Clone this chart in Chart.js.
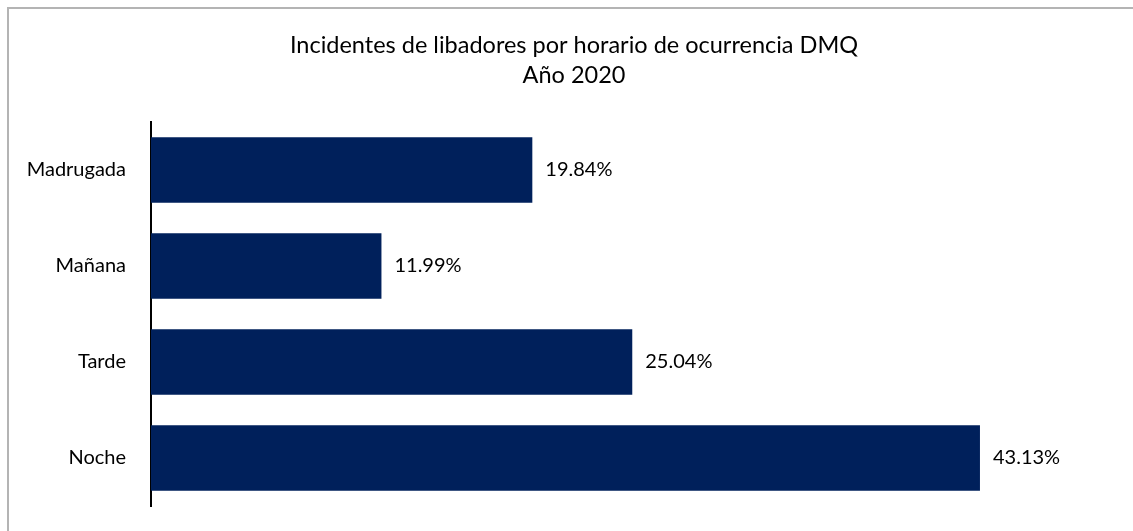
<!DOCTYPE html>
<html>
<head>
<meta charset="utf-8">
<script src="https://cdn.jsdelivr.net/npm/chart.js@4/dist/chart.umd.min.js"></script>
<style>
  html, body { margin: 0; padding: 0; background: #fff; overflow: hidden; }
  #frame {
    position: absolute; left: 7px; top: 7px;
    width: 1124px; height: 522px;
    border-top: 2px solid #b4b4b4;
    border-left: 2px solid #b4b4b4;
  }
  #frame canvas { display: block; }
</style>
</head>
<body>
<div id="frame"><canvas id="libadores" width="1124" height="522"></canvas></div>
<script>
const categories = ['Madrugada', 'Mañana', 'Tarde', 'Noche'];
const percentages = [19.84, 11.99, 25.04, 43.13];
const titleLines = ['Incidentes de libadores por horario de ocurrencia DMQ', 'Año 2020'];

const fontFamily = 'Lato, "Open Sans", sans-serif';

// percent text to the right of each bar
const valueLabels = {
  id: 'valueLabels',
  afterDatasetsDraw(chart) {
    const ctx = chart.ctx;
    const meta = chart.getDatasetMeta(0);
    ctx.save();
    ctx.font = '20px ' + fontFamily;
    ctx.fillStyle = '#000';
    ctx.textBaseline = 'middle';
    ctx.textAlign = 'left';
    meta.data.forEach((bar, i) => {
      ctx.fillText(percentages[i].toFixed(2) + '%', bar.x + 13, bar.y);
    });
    ctx.restore();
  }
};

// title centred on the whole picture, not on the chart box
const centredTitle = {
  id: 'centredTitle',
  afterDraw(chart) {
    const ctx = chart.ctx;
    ctx.save();
    ctx.font = '23.5px ' + fontFamily;
    ctx.fillStyle = '#000';
    ctx.textAlign = 'center';
    ctx.textBaseline = 'middle';
    titleLines.forEach((line, i) => {
      ctx.fillText(line, chart.width / 2 + 3, 36 + i * 30);
    });
    ctx.restore();
  }
};

new Chart(document.getElementById('libadores'), {
  type: 'bar',
  data: {
    labels: categories,
    datasets: [{
      data: percentages,
      backgroundColor: '#00205b',
      categoryPercentage: 1,
      barPercentage: 0.68
    }]
  },
  options: {
    indexAxis: 'y',
    responsive: false,
    animation: false,
    devicePixelRatio: 1,
    layout: { padding: { left: 0, right: 21, top: 113, bottom: 25 } },
    plugins: {
      legend: { display: false },
      tooltip: { enabled: false },
      title: { display: false }
    },
    scales: {
      x: { display: false, min: 0, max: 50 },
      y: {
        grid: { display: false },
        border: { display: true, color: '#000', width: 2 },
        ticks: { color: '#000', padding: 17, font: { family: fontFamily, size: 20 } },
        afterFit(scale) {
          scale.width = 142;
          scale.paddingTop = 0;
          scale.paddingBottom = 0;
        }
      }
    }
  },
  plugins: [valueLabels, centredTitle]
});
</script>
</body>
</html>
